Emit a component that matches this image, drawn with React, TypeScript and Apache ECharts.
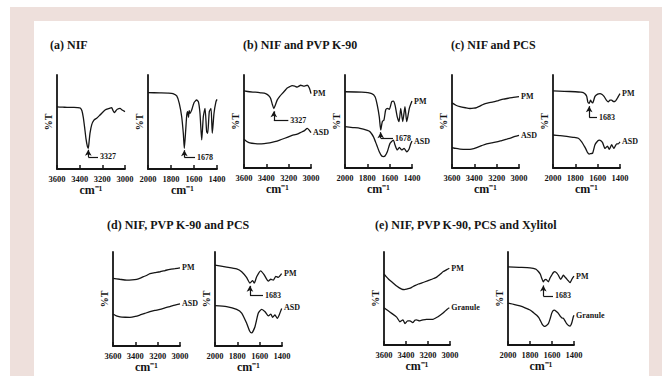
import React, { useEffect, useRef } from 'react';
import * as echarts from 'echarts';

type Pt = [number, number];

// ---- spectra (wavenumber cm-1, relative %T) ----
const A_NIF_OH: Pt[] = [[3600,66],[3550,65.8],[3500,65.5],[3450,65.6],[3420,65.3],[3395,64.8],[3380,62],[3368,55],[3356,44],[3344,32],[3332,24],[3324,22],[3316,30],[3309,38],[3294,47],[3274,52],[3250,54],[3221,57.4],[3176,62.8],[3138,64.5],[3118,65.2],[3105,62],[3094,59.9],[3080,62],[3068,63.5],[3044,64.5],[3026,62.8],[3000,61]];
const A_NIF_CO: Pt[] = [[2000,81.2],[1900,81],[1820,80.8],[1783,80.3],[1750,77.7],[1728,69.9],[1707,55.6],[1693,38],[1684,22],[1672,41.5],[1663,57.4],[1655,61],[1648,55],[1642,62],[1635,59.3],[1620,62.8],[1600,70.5],[1577,73.4],[1562,71.6],[1548,59.3],[1533,30.9],[1519,55.6],[1504,64.6],[1490,39.7],[1481,38],[1467,61],[1452,64.6],[1441,38],[1426,59.3],[1409,71.6],[1400,74.1]];

const B_PM_OH: Pt[] = [[3600,83],[3550,82],[3500,81.5],[3450,80.8],[3406,80],[3380,78],[3362,75],[3345,68],[3333,64],[3318,68],[3303,73],[3280,77],[3258,80],[3235,83],[3213,86],[3190,87.5],[3169,88.5],[3145,88],[3124,87],[3108,88],[3093,89],[3078,88.5],[3064,88],[3048,88.5],[3034,89],[3015,86],[3000,80]];
const B_ASD_OH: Pt[] = [[3600,31],[3575,28.5],[3548,27],[3500,26.2],[3459,26],[3420,26.3],[3370,27],[3325,28.3],[3280,30],[3235,32],[3191,34],[3155,35.5],[3124,36.5],[3100,37.8],[3079,39],[3055,40.5],[3034,42.6],[3018,41],[3000,38]];
const B_PM_CO: Pt[] = [[2000,82],[1850,81.5],[1761,80],[1731,76.7],[1711,67.7],[1693,55],[1680,40.9],[1666,49.8],[1651,51.6],[1636,62.4],[1621,64.2],[1603,63.1],[1582,71.3],[1567,72],[1552,67.7],[1532,55],[1516,49.8],[1501,64.2],[1483,49.8],[1463,65.9],[1447,49.8],[1424,64.2],[1403,71.3],[1400,72]];
const B_ASD_CO: Pt[] = [[2000,44.4],[1930,43.5],[1866,42.7],[1800,40.5],[1776,39],[1746,33.7],[1716,24.7],[1693,17.5],[1671,12.9],[1655,12.3],[1642,12.9],[1621,17.5],[1597,26.5],[1567,30],[1552,24.7],[1532,19.4],[1513,22.2],[1492,19.4],[1471,21.1],[1447,17.5],[1427,20.1],[1412,25.8],[1400,29]];

const C_PM_OH: Pt[] = [[3600,70],[3565,67.5],[3529,66],[3480,64.8],[3439,64],[3405,64.3],[3379,65],[3350,66.5],[3320,68.5],[3275,70],[3230,71],[3185,72.5],[3140,74],[3095,75],[3051,76],[3000,76.8]];
const C_ASD_OH: Pt[] = [[3600,22],[3565,21],[3529,20.4],[3480,20],[3439,20],[3405,20.8],[3379,22],[3335,24],[3290,26],[3245,27],[3200,28],[3155,29.5],[3110,31],[3070,32.5],[3036,34],[3000,35.2]];
const C_PM_CO: Pt[] = [[2000,83],[1900,82.5],[1800,82],[1750,81.5],[1729,81],[1712,79.5],[1698,77],[1688,71],[1676,69.5],[1664,73],[1655,71],[1645,70],[1624,77],[1600,79.5],[1579,80],[1560,79],[1543,77],[1522,73],[1505,71],[1490,73],[1475,73],[1460,71.5],[1445,71.5],[1424,75],[1410,78],[1400,80]];
const C_ASD_CO: Pt[] = [[2000,35.5],[1940,34.8],[1877,34],[1820,33],[1773,32],[1743,28],[1720,23.5],[1704,20],[1690,16.5],[1676,15],[1660,15.5],[1645,16],[1624,25],[1600,29],[1585,30],[1568,29],[1555,27],[1534,21],[1513,23.6],[1495,20],[1475,25],[1455,21],[1430,26],[1415,26],[1400,28]];

const D_PM_OH: Pt[] = [[3600,72],[3540,71],[3477,70],[3430,70.3],[3388,71],[3350,72.5],[3328,73.7],[3300,75],[3269,77],[3225,78],[3179,79],[3135,80.3],[3090,81.6],[3045,82.3],[3000,83]];
const D_ASD_OH: Pt[] = [[3600,34],[3570,32],[3537,31],[3490,30.6],[3448,30.5],[3400,31.5],[3358,33],[3315,34.7],[3269,36.5],[3225,37.8],[3179,39],[3135,40.5],[3090,42],[3045,43.5],[3000,44.7]];
const D_PM_CO: Pt[] = [[2000,86],[1896,84],[1806,82],[1761,79],[1716,72.7],[1687,67],[1663,69.5],[1648,67],[1627,73.7],[1591,80],[1561,76],[1522,69],[1500,71],[1478,70],[1455,74],[1433,73],[1403,77],[1400,77.5]];
const D_ASD_CO: Pt[] = [[2000,43],[1896,42],[1806,39],[1761,35],[1716,24],[1690,16],[1672,14],[1642,20.5],[1612,35],[1582,39],[1552,36.5],[1522,32],[1500,34],[1484,30.5],[1463,33],[1442,29.5],[1425,33],[1403,40],[1400,40.5]];

const E_PM_OH: Pt[] = [[3600,76],[3591,75],[3560,71],[3530,68],[3485,63.4],[3439,60],[3415,59.5],[3394,60],[3370,60.8],[3348,62],[3320,63.8],[3287,65.6],[3255,66.8],[3227,68],[3182,70],[3150,71.5],[3121,73],[3090,76],[3061,79],[3030,81],[3006,82.5]];
const E_GRAN_OH: Pt[] = [[3600,40],[3565,37],[3530,34],[3485,30],[3455,25],[3428,27],[3409,23],[3385,26],[3364,26],[3339,24],[3320,26.5],[3306,27],[3276,26],[3245,27],[3215,27.6],[3185,27.5],[3155,27.6],[3130,29],[3109,30.4],[3078,33],[3048,36],[3025,38.5],[3006,40]];
const E_PM_CO: Pt[] = [[2000,84],[1900,83.5],[1800,83],[1770,82.5],[1745,81.5],[1724,79],[1706,76],[1694,72],[1679,68],[1668,70],[1655,70.6],[1645,69.5],[1633,68],[1618,72],[1603,75],[1588,78],[1573,79],[1558,77.5],[1542,75],[1521,70.6],[1510,72.5],[1497,75],[1485,73.5],[1473,72],[1455,69.5],[1436,67],[1418,71],[1400,74]];
const E_GRAN_CO: Pt[] = [[2000,45],[1940,43.5],[1891,42],[1845,40],[1800,37.6],[1770,35],[1739,32],[1720,29.5],[1709,27],[1690,22.5],[1675,20.5],[1664,20],[1650,21],[1633,23],[1615,29],[1603,34],[1590,37],[1579,37.6],[1560,36],[1542,34],[1521,30.4],[1510,29],[1497,28.7],[1482,26],[1467,23],[1450,21],[1436,20.4],[1420,24],[1406,30.4],[1400,32]];

// ---- peak annotations (wavenumber of arrow, arrow base/tip in %T, end of leader) ----
type Note = { peak: number; base: number; tip: number; end: number; text: string };
const NOTE_A_OH: Note = { peak: 3324, base: 12.8, tip: 20.5, end: 3238, text: '3327' };
const NOTE_A_CO: Note = { peak: 1684, base: 12.4, tip: 20, end: 1591, text: '1678' };
const NOTE_B_OH: Note = { peak: 3333, base: 51.6, tip: 61, end: 3203, text: '3327' };
const NOTE_B_CO: Note = { peak: 1680, base: 32, tip: 38.5, end: 1570, text: '1678' };
const NOTE_C_CO: Note = { peak: 1676, base: 54.5, tip: 66.5, end: 1606, text: '1683' };
const NOTE_D_CO: Note = { peak: 1687, base: 54, tip: 64, end: 1570, text: '1683' };
const NOTE_E_CO: Note = { peak: 1679, base: 52.7, tip: 64, end: 1591, text: '1683' };

const OH_RANGE = [3000, 3600];
const CO_RANGE = [1400, 2000];
const TICK_STEP = 200;

const TITLES = [
  '(a) NIF',
  '(b) NIF and PVP K-90',
  '(c) NIF and PCS',
  '(d) NIF, PVP K-90 and PCS',
  '(e) NIF, PVP K-90, PCS and Xylitol',
];

// ---- layout ----
const TITLE_POS = [
  [50, 39], [243, 39], [451, 39], [107, 219], [375, 219],
];

type Curve = { data: Pt[]; name?: string };
type Panel = { left: number; top: number; width: number; height: number; range: number[]; curves: Curve[]; note?: Note };

const PANELS: Panel[] = [
  { left: 57, top: 75, width: 68, height: 94, range: OH_RANGE, curves: [{ data: A_NIF_OH }], note: NOTE_A_OH },
  { left: 148, top: 75, width: 69, height: 94, range: CO_RANGE, curves: [{ data: A_NIF_CO }], note: NOTE_A_CO },
  { left: 244, top: 75, width: 67, height: 93, range: OH_RANGE, curves: [{ data: B_PM_OH, name: 'PM' }, { data: B_ASD_OH, name: 'ASD' }], note: NOTE_B_OH },
  { left: 345, top: 75, width: 67, height: 93, range: CO_RANGE, curves: [{ data: B_PM_CO, name: 'PM' }, { data: B_ASD_CO, name: 'ASD' }], note: NOTE_B_CO },
  { left: 452, top: 75, width: 67, height: 93, range: OH_RANGE, curves: [{ data: C_PM_OH, name: 'PM' }, { data: C_ASD_OH, name: 'ASD' }] },
  { left: 553, top: 75, width: 67, height: 93, range: CO_RANGE, curves: [{ data: C_PM_CO, name: 'PM' }, { data: C_ASD_CO, name: 'ASD' }], note: NOTE_C_CO },
  { left: 113, top: 252, width: 67, height: 94, range: OH_RANGE, curves: [{ data: D_PM_OH, name: 'PM' }, { data: D_ASD_OH, name: 'ASD' }] },
  { left: 215, top: 252, width: 67, height: 94, range: CO_RANGE, curves: [{ data: D_PM_CO, name: 'PM' }, { data: D_ASD_CO, name: 'ASD' }], note: NOTE_D_CO },
  { left: 384, top: 252, width: 66, height: 93, range: OH_RANGE, curves: [{ data: E_PM_OH, name: 'PM' }, { data: E_GRAN_OH, name: 'Granule' }] },
  { left: 508, top: 252, width: 66, height: 93, range: CO_RANGE, curves: [{ data: E_PM_CO, name: 'PM' }, { data: E_GRAN_CO, name: 'Granule' }], note: NOTE_E_CO },
];

const FONT = '"Liberation Serif", "Times New Roman", Times, serif';
const INK = '#151515';
const PINK = '#eee0dc';

const smallText = { color: INK, fontSize: 8, fontWeight: 'bold' as const, fontFamily: FONT };

function buildOption(): any {
  const grid = PANELS.map((p) => ({ left: p.left, top: p.top, width: p.width, height: p.height }));
  const xAxis = PANELS.map((p, i) => ({
    type: 'value',
    gridIndex: i,
    min: p.range[0],
    max: p.range[1],
    interval: TICK_STEP,
    inverse: true,
    axisLine: { show: true, onZero: false, lineStyle: { color: INK, width: 1.8 } },
    axisTick: { show: true, inside: true, length: 4, lineStyle: { color: INK, width: 1.5 } },
    axisLabel: { ...smallText, fontSize: 8.5, margin: 5, showMinLabel: true, showMaxLabel: true, formatter: (v: number) => String(v) },
    splitLine: { show: false },
    name: 'cm⁻¹',
    nameLocation: 'middle',
    nameGap: 14,
    nameTextStyle: { color: INK, fontSize: 12, fontWeight: 'bold', fontFamily: FONT },
  }));
  const yAxis = PANELS.map((p, i) => ({
    type: 'value',
    gridIndex: i,
    min: 0,
    max: 100,
    axisLine: { show: true, onZero: false, lineStyle: { color: INK, width: 1.8 } },
    axisTick: { show: false },
    axisLabel: { show: false },
    splitLine: { show: false },
    name: '%T',
    nameLocation: 'middle',
    nameRotate: 90,
    nameGap: 4,
    nameTextStyle: { color: INK, fontSize: 10, fontWeight: 'bold', fontFamily: FONT },
  }));
  const series: any[] = [];
  PANELS.forEach((p, i) => {
    p.curves.forEach((c, k) => {
      const last = c.data[c.data.length - 1];
      const s: any = {
        type: 'line',
        xAxisIndex: i,
        yAxisIndex: i,
        data: c.data,
        showSymbol: false,
        smooth: 0.2,
        silent: true,
        lineStyle: { color: INK, width: 1.3 },
      };
      if (c.name) {
        s.markPoint = {
          silent: true,
          symbol: 'circle',
          symbolSize: 0,
          data: [{ coord: last, label: { show: true, position: 'right', distance: 2, formatter: c.name, ...smallText } }],
        };
      }
      if (k === 0 && p.note) {
        const n = p.note;
        const lbl = { show: true, position: 'end', distance: 2, formatter: n.text, ...smallText };
        s.markLine = {
          silent: true,
          symbol: ['none', 'none'],
          lineStyle: { color: INK, width: 1.2, type: 'solid' },
          label: { show: false },
          emphasis: { disabled: true },
          data: [
            [
              { coord: [n.peak, n.base], symbol: 'none' },
              { coord: [n.peak, n.tip], symbol: 'arrow', symbolSize: [5, 6] },
            ],
            [
              { coord: [n.peak, n.base], symbol: 'none', label: lbl },
              { coord: [n.end, n.base], symbol: 'none', label: lbl },
            ],
          ],
        };
      }
      series.push(s);
    });
  });
  const title = TITLES.map((t, i) => ({
    text: t,
    left: TITLE_POS[i][0],
    top: TITLE_POS[i][1],
    padding: 0,
    textStyle: { color: INK, fontSize: 12, fontWeight: 'bold', fontFamily: FONT },
  }));
  return { animation: false, backgroundColor: 'transparent', title, grid, xAxis, yAxis, series };
}

export default function App() {
  const ref = useRef<HTMLDivElement>(null);
  useEffect(() => {
    if (!ref.current) return;
    const chart = echarts.init(ref.current, null, { renderer: 'svg' });
    chart.setOption(buildOption());
    return () => chart.dispose();
  }, []);
  return (
    <div style={{ position: 'fixed', left: 0, top: 0, width: 662, height: 376, background: '#fff', overflow: 'hidden' }}>
      <div style={{ position: 'absolute', left: 10, top: 7, width: 652, height: 369, background: PINK }} />
      <div style={{ position: 'absolute', left: 34, top: 21, width: 615, height: 355, background: '#fff' }} />
      <div ref={ref} style={{ position: 'absolute', left: 0, top: 0, width: 662, height: 376 }} />
    </div>
  );
}
